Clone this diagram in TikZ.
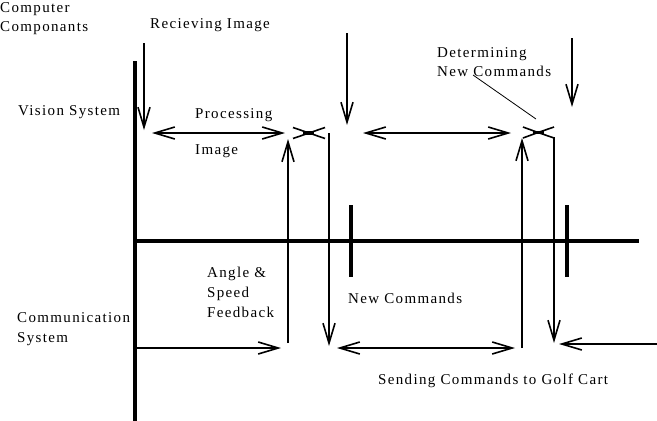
\documentclass[tikz,border=0pt]{standalone}
\usepackage{fontspec}
\setmainfont{Liberation Serif}[LetterSpace=9]
\usetikzlibrary{arrows.meta}
\tikzset{
  lbl/.style={anchor=base west, inner sep=0pt, font=\fontsize{15}{19}\selectfont},
  conn/.style={line width=1.6pt},
  hair/.style={line width=0.8pt},
  bar/.style={line width=4pt},
  xmid/.style={line width=3.2pt},
  >={Straight Barb[length=20pt,width=12pt]},
}
\begin{document}
\begin{tikzpicture}[x=1pt,y=-1pt]
\useasboundingbox (0,0) rectangle (657,421);
% axes
\coordinate (vtop) at (135,61);
\coordinate (vbot) at (135,421);
\coordinate (hl) at (133,241);
\coordinate (hr) at (639,241);
\draw[bar] (vtop) -- (vbot);
\draw[bar] (hl) -- (hr);
\coordinate (t1a) at (351,205); \coordinate (t1b) at (351,277);
\coordinate (t2a) at (567,205); \coordinate (t2b) at (567,277);
\draw[bar] (t1a) -- (t1b);
\draw[bar] (t2a) -- (t2b);
% labels
\node[lbl] (comp1) at (0,12) {Computer};
\node[lbl] (comp2) at (0,31) {Componants};
\node[lbl] (recv) at (150,28) {Recieving Image};
\node[lbl] (vis) at (18,115) {Vision System};
\node[lbl] (proc1) at (195,118) {Processing};
\node[lbl] (proc2) at (195,154) {Image};
\node[lbl] (det1) at (437,57) {Determining};
\node[lbl] (det2) at (437,76) {New Commands};
\node[lbl] (ang1) at (207,277) {Angle \&};
\node[lbl] (ang2) at (207,297) {Speed};
\node[lbl] (ang3) at (207,317) {Feedback};
\node[lbl] (com1) at (17,322) {Communication};
\node[lbl] (com2) at (17,342) {System};
\node[lbl] (newc) at (348,303) {New Commands};
\node[lbl] (send) at (378,384) {Sending Commands to Golf Cart};
% arrows
\coordinate (a1s) at (144,43);  \coordinate (a1e) at (144,130);
\draw[conn,->] (a1s) -- (a1e);
\coordinate (a2s) at (152,133); \coordinate (a2e) at (285,133);
\draw[conn,<->] (a2s) -- (a2e);
\coordinate (a3s) at (288,343); \coordinate (a3e) at (288,139);
\draw[conn,->] (a3s) -- (a3e);
\coordinate (a4s) at (329,133); \coordinate (a4e) at (329,346);
\draw[conn,->] (a4s) -- (a4e);
\coordinate (a5s) at (347,33);  \coordinate (a5e) at (347,125);
\draw[conn,->] (a5s) -- (a5e);
\coordinate (a6s) at (363,133); \coordinate (a6e) at (511,133);
\draw[conn,<->] (a6s) -- (a6e);
\coordinate (a7s) at (522,348); \coordinate (a7e) at (522,138);
\draw[conn,->] (a7s) -- (a7e);
\coordinate (a8s) at (554,137); \coordinate (a8e) at (554,343);
\draw[conn,->] (a8s) -- (a8e);
\coordinate (a9s) at (572,38);  \coordinate (a9e) at (572,107);
\draw[conn,->] (a9s) -- (a9e);
\coordinate (a10s) at (137,348); \coordinate (a10e) at (281,348);
\draw[conn,->] (a10s) -- (a10e);
\coordinate (a11s) at (337,348); \coordinate (a11e) at (515,348);
\draw[conn,<->] (a11s) -- (a11e);
\coordinate (a12s) at (657,344); \coordinate (a12e) at (559,344);
\draw[conn,->] (a12s) -- (a12e);
% pointer line
\coordinate (p1) at (473,75); \coordinate (p2) at (536,119);
\draw[hair] (p1) -- (p2);
% crossed heads
\coordinate (x1c) at (309,133);
\coordinate (x1a) at (293,127.5); \coordinate (x1b) at (293,138.5);
\coordinate (x1d) at (325,127.5); \coordinate (x1e) at (325,138.5);
\draw[conn] (x1a) -- (x1c) -- (x1d);
\draw[conn] (x1b) -- (x1c) -- (x1e);
\coordinate (x1m1) at (303,133); \coordinate (x1m2) at (314,133);
\draw[xmid] (x1m1) -- (x1m2);
\coordinate (x2c) at (538,132.5);
\coordinate (x2a) at (523,127); \coordinate (x2b) at (523,138);
\coordinate (x2d) at (554,127); \coordinate (x2e) at (554,138);
\draw[conn] (x2a) -- (x2c) -- (x2d);
\draw[conn] (x2b) -- (x2c) -- (x2e);
\coordinate (x2m1) at (533,132.5); \coordinate (x2m2) at (544,132.5);
\draw[xmid] (x2m1) -- (x2m2);
\end{tikzpicture}
\end{document}
